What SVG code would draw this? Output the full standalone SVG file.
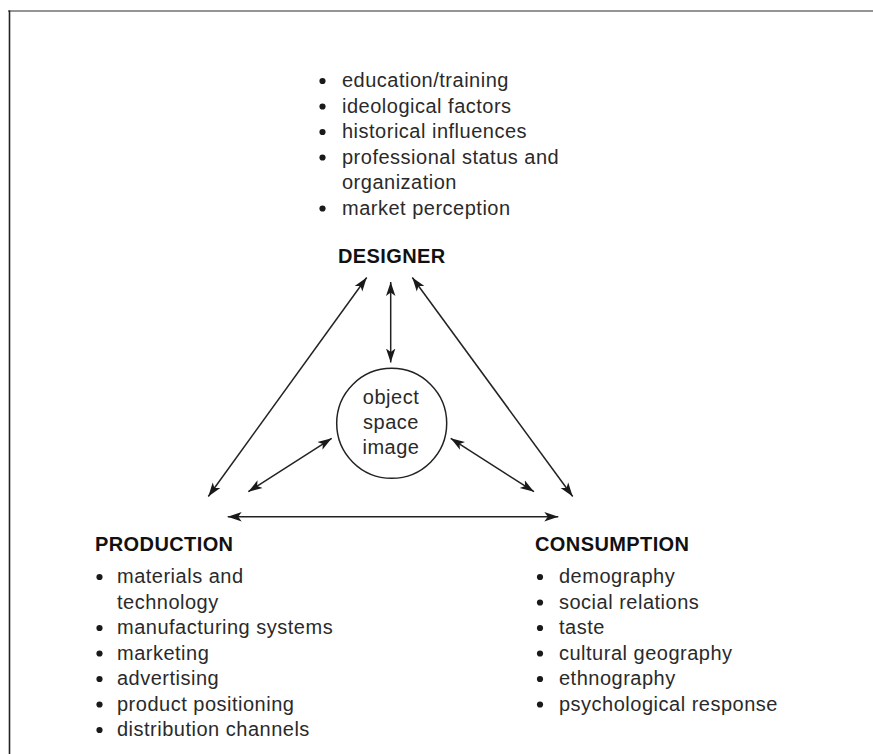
<svg xmlns="http://www.w3.org/2000/svg" width="873" height="754" viewBox="0 0 873 754">
  <style>
    .t { font-family: "Liberation Sans", Arial, sans-serif; font-size: 20px; fill: #2a2a2a; letter-spacing: 0.5px; }
    .h { font-family: "Liberation Sans", Arial, sans-serif; font-size: 20px; font-weight: bold; fill: #111; letter-spacing: 0.4px; }
    .b { fill: #1a1a1a; }
    .c { stroke: #222; stroke-width: 1.5; fill: none; marker-start: url(#ah); marker-end: url(#ah); }
  </style>
  <defs>
    <marker id="ah" markerUnits="userSpaceOnUse" markerWidth="15" markerHeight="11" viewBox="0 0 15 11" refX="14" refY="5.5" orient="auto-start-reverse">
      <path d="M0,0.8 L14,5.5 L0,10.2 L3.5,5.5 Z" fill="#1a1a1a"/>
    </marker>
  </defs>
  <rect width="873" height="754" fill="#fff"/>
  <g id="frame">
    <line x1="8" y1="11" x2="873" y2="11" stroke="#707070" stroke-width="1.5"/>
    <line x1="9.5" y1="10.5" x2="9.5" y2="754" stroke="#222" stroke-width="1.6"/>
  </g>
  <g id="designer">
    <circle class="b" cx="322.5" cy="81" r="3.1"/>
    <circle class="b" cx="322.5" cy="106.5" r="3.1"/>
    <circle class="b" cx="322.5" cy="132" r="3.1"/>
    <circle class="b" cx="322.5" cy="157.5" r="3.1"/>
    <circle class="b" cx="322.5" cy="208.5" r="3.1"/>
    <text class="t" x="342" y="87">education/training</text>
    <text class="t" x="342" y="112.5">ideological factors</text>
    <text class="t" x="342" y="138">historical influences</text>
    <text class="t" x="342" y="163.5">professional status and</text>
    <text class="t" x="342" y="189">organization</text>
    <text class="t" x="342" y="214.5">market perception</text>
    <text class="h" x="338" y="263">DESIGNER</text>
  </g>
  <g id="center">
    <circle cx="391.7" cy="423.3" r="55" fill="none" stroke="#222" stroke-width="1.5"/>
    <text class="t" x="391" y="404" text-anchor="middle">object</text>
    <text class="t" x="391" y="429" text-anchor="middle">space</text>
    <text class="t" x="391" y="454" text-anchor="middle">image</text>
  </g>
  <g id="production">
    <text class="h" x="95" y="551">PRODUCTION</text>
    <circle class="b" cx="99.5" cy="577" r="3.1"/>
    <circle class="b" cx="99.5" cy="628" r="3.1"/>
    <circle class="b" cx="99.5" cy="653.5" r="3.1"/>
    <circle class="b" cx="99.5" cy="679" r="3.1"/>
    <circle class="b" cx="99.5" cy="704.5" r="3.1"/>
    <circle class="b" cx="99.5" cy="730" r="3.1"/>
    <text class="t" x="117" y="583">materials and</text>
    <text class="t" x="117" y="608.5">technology</text>
    <text class="t" x="117" y="634">manufacturing systems</text>
    <text class="t" x="117" y="659.5">marketing</text>
    <text class="t" x="117" y="685">advertising</text>
    <text class="t" x="117" y="710.5">product positioning</text>
    <text class="t" x="117" y="736">distribution channels</text>
  </g>
  <g id="consumption">
    <text class="h" x="535" y="551">CONSUMPTION</text>
    <circle class="b" cx="540" cy="577" r="3.1"/>
    <circle class="b" cx="540" cy="602.5" r="3.1"/>
    <circle class="b" cx="540" cy="628" r="3.1"/>
    <circle class="b" cx="540" cy="653.5" r="3.1"/>
    <circle class="b" cx="540" cy="679" r="3.1"/>
    <circle class="b" cx="540" cy="704.5" r="3.1"/>
    <text class="t" x="559" y="583">demography</text>
    <text class="t" x="559" y="608.5">social relations</text>
    <text class="t" x="559" y="634">taste</text>
    <text class="t" x="559" y="659.5">cultural geography</text>
    <text class="t" x="559" y="685">ethnography</text>
    <text class="t" x="559" y="710.5">psychological response</text>
  </g>
  <g id="connectors">
    <line class="c" x1="390.7" y1="282" x2="390.7" y2="362.5"/>
    <line class="c" x1="366.7" y1="277.5" x2="208.3" y2="496.5"/>
    <line class="c" x1="412.3" y1="277.5" x2="572.7" y2="496.5"/>
    <line class="c" x1="331.7" y1="438.3" x2="248.3" y2="491.7"/>
    <line class="c" x1="450.7" y1="438.3" x2="534" y2="491.7"/>
    <line class="c" x1="227.7" y1="516.7" x2="558.3" y2="516.7"/>
  </g>
</svg>
